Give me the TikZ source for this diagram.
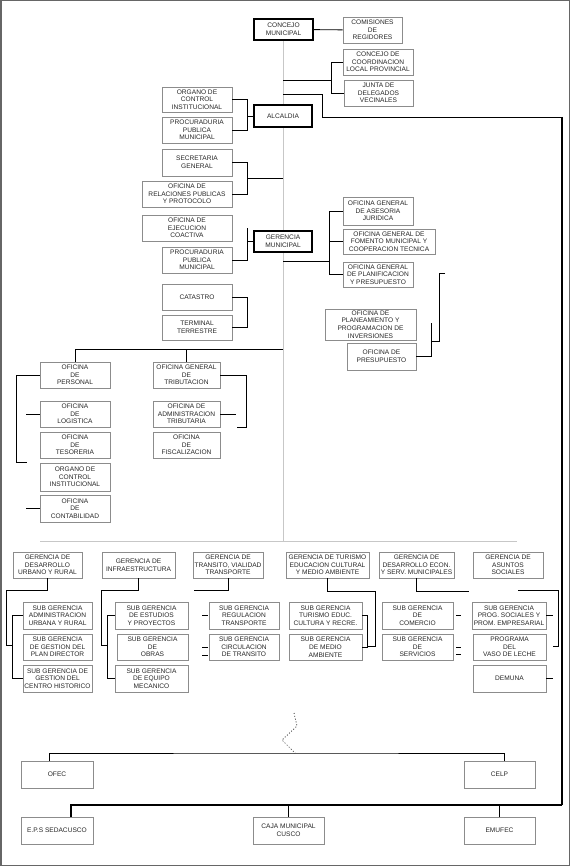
\documentclass[tikz,border=0pt]{standalone}
\usepackage{fontspec}
\setmainfont{Liberation Sans}

\tikzset{
  box/.style={draw=black!45, line width=0.8pt, fill=white, inner sep=0pt, align=center,
    font=\fontsize{6.6}{7.7}\selectfont, text=black!85},
  bossbox/.style={box, draw=black, line width=1.4pt},
  sz/.style 2 args={minimum width=#1pt, minimum height=#2pt},
  link/.style={line width=0.9pt},
  faint/.style={draw=black!22, line width=0.8pt},
}

\begin{document}
\begin{tikzpicture}[x=1pt,y=-1pt]
        \useasboundingbox (0,0) rectangle (570,866);
        \draw[black!60, line width=1.5pt] (0.75,0.75) rectangle (569.25,865.25);
        % light trunk
        \coordinate (t40) at (283,40);
        \coordinate (t541) at (283,541);
        \coordinate (h541L) at (40,541);
        \coordinate (h541R) at (517,541);
        \draw[faint] (t40) -- (t541);
        \draw[faint] (h541L) -- (h541R);

                \begin{scope}[every node/.style={box}]
                        % top
                        \node[bossbox, sz={59}{21}] (concejo) at (283.5,29.5) {CONCEJO\\MUNICIPAL};
                        \node[sz={59}{26}] (comisiones) at (372.5,30) {COMISIONES\\DE\\REGIDORES};
                        \node[sz={70}{26}] (coordinacion) at (378,62) {CONCEJO DE\\COORDINACION\\LOCAL PROVINCIAL};
                        \node[sz={69}{26}] (juntaDeleg) at (378.5,93) {JUNTA DE\\DELEGADOS\\VECINALES};
                        \node[sz={70}{25}] (organoTop) at (197,99.5) {ORGANO DE\\CONTROL\\INSTITUCIONAL};
                        \node[sz={70}{26}] (procTop) at (197,130) {PROCURADURIA\\PUBLICA\\MUNICIPAL};
                        \node[bossbox, sz={58}{22}] (alcaldia) at (283,116) {ALCALDIA};
                        \node[sz={70}{27}] (secretaria) at (197,162.5) {SECRETARIA\\GENERAL};
                        \node[sz={90}{26}] (relaciones) at (187,194) {OFICINA DE\\RELACIONES PUBLICAS\\Y PROTOCOLO};
                        \node[sz={90}{26}] (ejecucion) at (187,228) {OFICINA DE\\EJECUCION\\COACTIVA};
                        \node[bossbox, sz={58}{21}] (gerencia) at (283,241.5) {GERENCIA\\MUNICIPAL};
                        \node[sz={70}{26}] (procMid) at (197,260) {PROCURADURIA\\PUBLICA\\MUNICIPAL};
                        \node[sz={70}{28}] (asesoria) at (378,211) {OFICINA GENERAL\\DE ASESORIA\\JURIDICA};
                        \node[sz={92}{25}] (fomento) at (389,241.5) {OFICINA GENERAL DE\\FOMENTO MUNICIPAL Y\\COOPERACION TECNICA};
                        \node[sz={70}{25}] (planificacion) at (378,274.5) {OFICINA GENERAL\\DE PLANIFICACION\\Y PRESUPUESTO};
                        \node[sz={70}{26}] (catastro) at (197,297) {CATASTRO};
                        \node[sz={70}{25}] (terminal) at (197,327.5) {TERMINAL\\TERRESTRE};
                        \node[sz={91}{31}] (planeamiento) at (370.5,324.5) {OFICINA DE\\PLANEAMIENTO Y\\PROGRAMACION DE\\INVERSIONES};
                        \node[sz={69}{27}] (presupuesto) at (381.5,356.5) {OFICINA DE\\PRESUPUESTO};
                        % middle
                        \node[sz={70}{26}] (personal) at (75,375) {OFICINA\\DE\\PERSONAL};
                        \node[sz={70}{26}] (logistica) at (75,414) {OFICINA\\DE\\LOGISTICA};
                        \node[sz={70}{26}] (tesoreria) at (75,445) {OFICINA\\DE\\TESORERIA};
                        \node[sz={70}{28}] (organoMid) at (75,477) {ORGANO DE\\CONTROL\\INSTITUCIONAL};
                        \node[sz={70}{27}] (contabilidad) at (75,508.5) {OFICINA\\DE\\CONTABILIDAD};
                        \node[sz={67}{26}] (tributacion) at (186.5,375) {OFICINA GENERAL\\DE\\TRIBUTACION};
                        \node[sz={67}{26}] (admTrib) at (186.5,414) {OFICINA DE\\ADMINISTRACION\\TRIBUTARIA};
                        \node[sz={67}{26}] (fiscalizacion) at (186.5,445) {OFICINA\\DE\\FISCALIZACION};
                        % gerencias de linea
                        \node[sz={69}{26}] (gUrbano) at (47.5,565) {GERENCIA DE\\DESARROLLO\\URBANO Y RURAL};
                        \node[sz={73}{26}] (gInfra) at (138.5,565) {GERENCIA DE\\INFRAESTRUCTURA};
                        \node[sz={70}{26}] (gTransito) at (228,565) {GERENCIA DE\\TRANSITO, VIALIDAD\\TRANSPORTE};
                        \node[sz={83}{26}] (gTurismo) at (327.5,565) {GERENCIA DE TURISMO\\EDUCACION CULTURAL\\Y MEDIO AMBIENTE};
                        \node[sz={75}{26}] (gDesEcon) at (416.5,565) {GERENCIA DE\\DESARROLLO ECON.\\Y SERV. MUNICIPALES};
                        \node[sz={70}{26}] (gSociales) at (508,565) {GERENCIA DE\\ASUNTOS\\SOCIALES};
                        % sub gerencias
                        \node[sz={69}{27}] (sgAdmUrb) at (57.5,615.5) {SUB GERENCIA\\ADMINISTRACION\\URBANA Y RURAL};
                        \node[sz={69}{26}] (sgPlanDir) at (57.5,647) {SUB GERENCIA\\DE GESTION DEL\\PLAN DIRECTOR};
                        \node[sz={69}{27}] (sgCentroHist) at (57.5,678.5) {SUB GERENCIA DE\\GESTION DEL\\CENTRO HISTORICO};
                        \node[sz={73}{27}] (sgEstudios) at (151.5,615.5) {SUB GERENCIA\\DE ESTUDIOS\\Y PROYECTOS};
                        \node[sz={71}{26}] (sgObras) at (152.5,647) {SUB GERENCIA\\DE\\OBRAS};
                        \node[sz={73}{27}] (sgEquipo) at (151.5,678.5) {SUB GERENCIA\\DE EQUIPO\\MECANICO};
                        \node[sz={70}{27}] (sgRegulacion) at (244,615.5) {SUB GERENCIA\\REGULACION\\TRANSPORTE};
                        \node[sz={70}{26}] (sgCirculacion) at (244,647) {SUB GERENCIA\\CIRCULACION\\DE TRANSITO};
                        \node[sz={73}{27}] (sgTurismo) at (325.5,615.5) {SUB GERENCIA\\TURISMO EDUC.\\CULTURA Y RECRE.};
                        \node[sz={73}{26}] (sgMedioAmb) at (325.5,647) {SUB GERENCIA\\DE MEDIO\\AMBIENTE};
                        \node[sz={71}{27}] (sgComercio) at (417.5,615.5) {SUB GERENCIA\\DE\\COMERCIO};
                        \node[sz={71}{26}] (sgServicios) at (417.5,647) {SUB GERENCIA\\DE\\SERVICIOS};
                        \node[sz={74}{27}] (sgProgSoc) at (509,615.5) {SUB GERENCIA\\PROG. SOCIALES Y\\PROM. EMPRESARIAL};
                        \node[sz={73}{26}] (vasoLeche) at (509.5,647) {PROGRAMA\\DEL\\VASO DE LECHE};
                        \node[sz={73}{27}] (demuna) at (509.5,678.5) {DEMUNA};
                        % empresas
                        \node[sz={72}{27}] (ofec) at (57,774.5) {OFEC};
                        \node[sz={71}{27}] (celp) at (499.5,774.5) {CELP};
                        \node[sz={72}{27}] (sedacusco) at (57,830.5) {E.P.S SEDACUSCO};
                        \node[sz={71}{27}] (caja) at (288.5,830.5) {CAJA MUNICIPAL\\CUSCO};
                        \node[sz={71}{27}] (emufec) at (499.5,830.5) {EMUFEC};
                \end{scope}

                \coordinate (t80) at (283,80);
                \coordinate (t94) at (283,94);
                \coordinate (t178) at (283,178);
                \coordinate (t261) at (283,261);
                \coordinate (t349) at (283,349);
                \coordinate (corner) at (562,117);
                \coordinate (cornerB) at (562,805);
                \coordinate (p1) at (445,273);
                \coordinate (s1) at (518,590);
                \coordinate (z0) at (294,713);
                \coordinate (h753) at (295,753);

                \begin{scope}[every path/.style={link}]
                        \draw (concejo) -- (comisiones);
                        \draw (coordinacion.west) -- ++(-11,0) coordinate (b1) |- (juntaDeleg.west);
                        \draw (t80) -- (t80 -| b1);
                        \draw (t94) -- ++(39,0) |- (corner);
                        \draw[line width=2.2pt] (corner) -- (cornerB);
                        \draw[line width=1.6pt] (cornerB) -| ([xshift=14pt]sedacusco.north);
                        \draw (caja.north) -- (caja.north |- cornerB);
                        \draw (emufec.north) -- (emufec.north |- cornerB);
                        % alcaldia
                        \draw (organoTop.east) -- ++(15,0) coordinate (b2) |- (procTop.east);
                        \draw (alcaldia.west) -- (alcaldia.west -| b2);
                        \draw (secretaria.east) -- ++(15,0) coordinate (b3) |- (relaciones.east);
                        \draw (t178) -- (t178 -| b3);
                        % gerencia municipal
                        \draw (procMid.east) -- ++(15,0) coordinate (b4) -- (b4 |- ejecucion.east);
                        \draw (gerencia.west) -- (gerencia.west -| b4);
                        \draw (asesoria.west) -- ++(-13,0) coordinate (b5) |- (planificacion.west);
                        \draw (fomento.west) -- (fomento.west -| b5);
                        \draw (t261) -- (t261 -| b5);
                        \draw (catastro.east) -- ++(15,0) |- (terminal.east);
                        \draw (p1) -- ++(-6,0) -- ++(0,68) -- ++(-8,0);
                        \draw (presupuesto.east) -- ++(15,0) -- ++(0,-34);
                        % apoyo
                        \draw (t349) -| (personal.north);
                        \draw (tributacion.north) -- (tributacion.north |- t349);
                        \draw (personal.west) -- ++(-23,0) -- ++(0,87) -- ++(10,0);
                        \draw (logistica.west) -- ++(-14,0);
                        \draw (contabilidad.west) -- ++(-14,0);
                        \draw (tributacion.east) -- ++(26,0) -- ++(0,52) -- ++(-9,0);
                        \draw (admTrib.east) -- ++(16,0);
                        % gerencias de linea
                        \draw (gUrbano.south) -- ++(0,12) -- ++(-41.5,0) -- ++(0,55) -- ++(7,0);
                        \draw (sgAdmUrb.west) -- ++(-10,0) |- (sgCentroHist.west);
                        \draw (gInfra.south) -- ++(0,12) -- ++(-37.5,0) -- ++(0,55) -- ++(7,0);
                        \draw (sgEstudios.west) -- ++(-7,0) |- (sgEquipo.west);
                        \draw (gTransito.south) -- ++(0,12) -- ++(-34,0);
                        \draw ([xshift=-1pt]sgRegulacion.west) -- ++(-6,0);
                        \draw ([xshift=-1pt]sgCirculacion.west) -- ++(-6,0);
                        \draw ([xshift=-1pt,yshift=-8pt]sgCirculacion.west) -- ++(-6,0);
                        \draw (gTurismo.south) -- ++(0,13) -- ++(47.5,0) -- ++(0,55) -- ++(-8,0);
                        \draw (sgTurismo.east) -- ++(5,0) |- (sgMedioAmb.east);
                        \draw (gDesEcon.south) -- ++(0,13) -- ++(52.5,0);
                        \draw ([xshift=3pt]sgComercio.east) -- ++(5,0);
                        \draw ([xshift=3pt]sgServicios.east) -- ++(5,0);
                        \draw ([xshift=3pt,yshift=-7pt]sgServicios.east) -- ++(5,0);
                        \draw (s1) -- ++(40,0) -- ++(0,56) -- ++(-5,0);
                        \draw (sgProgSoc.east) -- ++(7,0);
                        \draw (demuna.east) -- ++(7,0);
                        % empresas
                        \draw[dotted, line width=0.7pt] (z0) -- (297,726) -- (282,740) -- (h753);
                        \draw ([xshift=-8pt]ofec.north) |- (h753) -| ([xshift=4.5pt]celp.north);
                \end{scope}
        \end{tikzpicture}
\end{document}
